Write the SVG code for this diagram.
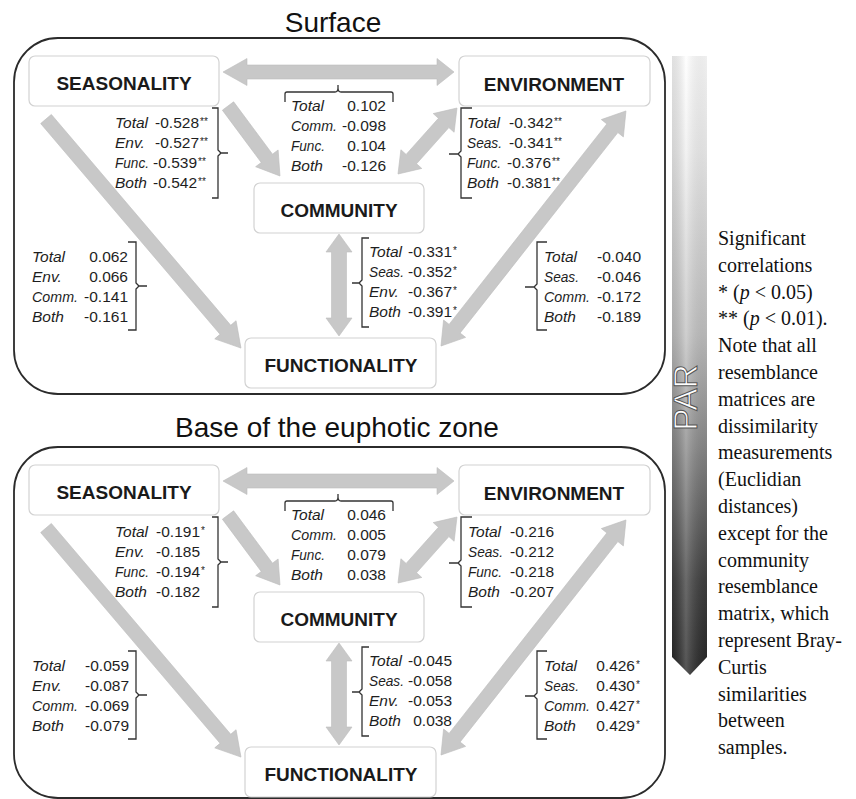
<svg xmlns="http://www.w3.org/2000/svg" width="856" height="799" viewBox="0 0 856 799">
<defs>
<style>
.box{fill:#fff;stroke:#d2d2d2;stroke-width:1.2}
.nt{font-family:"Liberation Sans",Arial,sans-serif;font-weight:bold;font-size:19px;fill:#1a1a1a;text-anchor:middle}
.lab{font-family:"Liberation Sans",Arial,sans-serif;font-size:15.5px;fill:#1e1e1e;font-style:italic}
.val{font-family:"Liberation Sans",Arial,sans-serif;font-size:15.5px;fill:#1e1e1e;text-anchor:end}
.st{font-family:"Liberation Sans",Arial,sans-serif;font-size:10px;fill:#222}
.br{fill:none;stroke:#333;stroke-width:1.3}
.arr{fill:#c8c8c8;stroke:#bdbdbd;stroke-width:0.6}
.panel{fill:none;stroke:#2b2b2b;stroke-width:1.8}
.pt{font-family:"Liberation Sans",Arial,sans-serif;font-size:28px;fill:#111;text-anchor:middle}
.note{font-family:"Liberation Serif","Times New Roman",serif;font-size:20px;fill:#111}
</style>
<linearGradient id="parV" x1="0" y1="0" x2="0" y2="1">
<stop offset="0" stop-color="#ffffff"/>
<stop offset="0.15" stop-color="#f0f0f0"/>
<stop offset="0.45" stop-color="#c2c2c2"/>
<stop offset="0.62" stop-color="#8e8e8e"/>
<stop offset="0.85" stop-color="#404040"/>
<stop offset="1" stop-color="#262626"/>
</linearGradient>
<linearGradient id="parH" x1="0" y1="0" x2="1" y2="0">
<stop offset="0" stop-color="#000" stop-opacity="0.12"/>
<stop offset="0.4" stop-color="#fff" stop-opacity="0.22"/>
<stop offset="1" stop-color="#000" stop-opacity="0.06"/>
</linearGradient>
</defs>
<rect width="856" height="799" fill="#fff"/>

<!-- PAR bar -->
<g id="par">
<path d="M672,56 H707 V657 L690,675 L672,657 Z" fill="url(#parV)"/>
<path d="M672,56 H707 V657 L690,675 L672,657 Z" fill="url(#parH)"/>
<text transform="translate(697,397.5) rotate(-90)" text-anchor="middle" font-family="'Liberation Sans',Arial,sans-serif" font-size="33.5" fill="#fff" stroke="#555" stroke-width="1">PAR</text>
</g>

<!-- Note text -->
<g id="note" class="note">
<text x="718" y="245">Significant</text>
<text x="718" y="271.8">correlations</text>
<text x="718" y="298.6">* (<tspan font-style="italic">p</tspan> &lt; 0.05)</text>
<text x="718" y="325.4">** (<tspan font-style="italic">p</tspan> &lt; 0.01).</text>
<text x="718" y="352.2">Note that all</text>
<text x="718" y="379">resemblance</text>
<text x="718" y="405.8">matrices are</text>
<text x="718" y="432.6">dissimilarity</text>
<text x="718" y="459.4">measurements</text>
<text x="718" y="486.2">(Euclidian</text>
<text x="718" y="513">distances)</text>
<text x="718" y="539.8">except for the</text>
<text x="718" y="566.6">community</text>
<text x="718" y="593.4">resemblance</text>
<text x="718" y="620.2">matrix, which</text>
<text x="718" y="647">represent Bray-</text>
<text x="718" y="673.8">Curtis</text>
<text x="718" y="700.6">similarities</text>
<text x="718" y="727.4">between</text>
<text x="718" y="754.2">samples.</text>
</g>

<!-- ================= TOP PANEL ================= -->
<text class="pt" x="333" y="32">Surface</text>
<rect class="panel" x="14" y="38" width="651" height="356" rx="44"/>

<g id="connectors-top">
<polygon class="arr" transform="translate(223,72)" points="0,0 24,-13.5 24,-7 214,-7 214,-13.5 231,0 214,13.5 214,7 24,7 24,13.5"/>
<polygon class="arr" transform="translate(228,106) rotate(53.4)" points="0,-7 65.2,-7 65.2,-14 87.2,0 65.2,14 65.2,7 0,7"/>
<polygon class="arr" transform="translate(398,174) rotate(-48.2)" points="0,0 20,-14 20,-7 68.5,-7 68.5,-14 88.5,0 68.5,14 68.5,7 20,7 20,14"/>
<polygon class="arr" transform="translate(46,119) rotate(49.6)" points="0,-7 276.8,-7 276.8,-14 300.8,0 276.8,14 276.8,7 0,7"/>
<polygon class="arr" transform="translate(441,346) rotate(-51.8)" points="0,0 22,-14 22,-7 277.1,-7 277.1,-14 299.1,0 277.1,14 277.1,7 22,7 22,14"/>
<polygon class="arr" points="339,234 352,252 346.5,252 346.5,318 352,318 339,336 326,318 331.5,318 331.5,252 326,252"/>
</g>

<g id="seasonality-top"><rect class="box" x="29" y="56" width="190" height="50" rx="6"/><text class="nt" x="124" y="90">SEASONALITY</text></g>
<g id="environment-top"><rect class="box" x="459" y="56" width="191" height="50" rx="6"/><text class="nt" x="554" y="91">ENVIRONMENT</text></g>
<g id="community-top"><rect class="box" x="254" y="183" width="170" height="50" rx="6"/><text class="nt" x="339" y="217">COMMUNITY</text></g>
<g id="functionality-top"><rect class="box" x="245" y="338" width="191" height="50" rx="6"/><text class="nt" x="341" y="372">FUNCTIONALITY</text></g>

<g id="labels-top">
<!-- A -->
<path class="br" d="M212,108 H218 V150 L221,153 H228 M221,153 L218,156 V198 H212"/>
<text class="lab" x="115" y="128">Total</text><text class="val" x="199" y="128">-0.528</text><text class="st" x="200" y="125">**</text>
<text class="lab" x="115" y="148">Env.</text><text class="val" x="199" y="148">-0.527</text><text class="st" x="200" y="145">**</text>
<text class="lab" x="115" y="168" textLength="34" lengthAdjust="spacingAndGlyphs">Func.</text><text class="val" x="197" y="168">-0.539</text><text class="st" x="198" y="165">**</text>
<text class="lab" x="115" y="188">Both</text><text class="val" x="197" y="188">-0.542</text><text class="st" x="198" y="185">**</text>
<!-- B -->
<path class="br" d="M285,102 V94 Q285,92 287,92 H335 Q338,92 338,88 V85 M338,88 Q338,92 341,92 H391 Q393,92 393,94 V102"/>
<text class="lab" x="291" y="111">Total</text><text class="val" x="386" y="111">0.102</text>
<text class="lab" x="291" y="131" textLength="46" lengthAdjust="spacingAndGlyphs">Comm.</text><text class="val" x="386" y="131">-0.098</text>
<text class="lab" x="291" y="151" textLength="34" lengthAdjust="spacingAndGlyphs">Func.</text><text class="val" x="386" y="151">0.104</text>
<text class="lab" x="291" y="171">Both</text><text class="val" x="386" y="171">-0.126</text>
<!-- C -->
<path class="br" d="M472,108 H461 V151 L458,154 H449 M458,154 L461,157 V198 H472"/>
<text class="lab" x="467" y="128">Total</text><text class="val" x="553" y="128">-0.342</text><text class="st" x="554" y="125">**</text>
<text class="lab" x="467" y="148" textLength="35" lengthAdjust="spacingAndGlyphs">Seas.</text><text class="val" x="553" y="148">-0.341</text><text class="st" x="554" y="145">**</text>
<text class="lab" x="467" y="168" textLength="34" lengthAdjust="spacingAndGlyphs">Func.</text><text class="val" x="551" y="168">-0.376</text><text class="st" x="552" y="165">**</text>
<text class="lab" x="467" y="188">Both</text><text class="val" x="551" y="188">-0.381</text><text class="st" x="552" y="185">**</text>
<!-- D -->
<path class="br" d="M128,242 H136 V283 L139,286 H147 M139,286 L136,289 V330 H128"/>
<text class="lab" x="32" y="262">Total</text><text class="val" x="128" y="262">0.062</text>
<text class="lab" x="32" y="282">Env.</text><text class="val" x="128" y="282">0.066</text>
<text class="lab" x="32" y="302" textLength="46" lengthAdjust="spacingAndGlyphs">Comm.</text><text class="val" x="128" y="302">-0.141</text>
<text class="lab" x="32" y="322">Both</text><text class="val" x="128" y="322">-0.161</text>
<!-- E -->
<path class="br" d="M369,238 H362 V280 L359,283 H352 M359,283 L362,286 V327 H369"/>
<text class="lab" x="369" y="257">Total</text><text class="val" x="452" y="257">-0.331</text><text class="st" x="453" y="254">*</text>
<text class="lab" x="369" y="277" textLength="35" lengthAdjust="spacingAndGlyphs">Seas.</text><text class="val" x="452" y="277">-0.352</text><text class="st" x="453" y="274">*</text>
<text class="lab" x="369" y="297">Env.</text><text class="val" x="452" y="297">-0.367</text><text class="st" x="453" y="294">*</text>
<text class="lab" x="369" y="317">Both</text><text class="val" x="452" y="317">-0.391</text><text class="st" x="453" y="314">*</text>
<!-- F -->
<path class="br" d="M547,242 H537 V284 L534,287 H525 M534,287 L537,290 V330 H547"/>
<text class="lab" x="544" y="262">Total</text><text class="val" x="641" y="262">-0.040</text>
<text class="lab" x="544" y="282" textLength="35" lengthAdjust="spacingAndGlyphs">Seas.</text><text class="val" x="641" y="282">-0.046</text>
<text class="lab" x="544" y="302" textLength="46" lengthAdjust="spacingAndGlyphs">Comm.</text><text class="val" x="641" y="302">-0.172</text>
<text class="lab" x="544" y="322">Both</text><text class="val" x="641" y="322">-0.189</text>
</g>

<!-- ================= BOTTOM PANEL ================= -->
<text class="pt" x="337" y="437">Base of the euphotic zone</text>
<rect class="panel" x="14" y="447" width="651" height="351" rx="44"/>

<g transform="translate(0,409)">
<g id="connectors-bottom">
<polygon class="arr" transform="translate(223,72)" points="0,0 24,-13.5 24,-7 214,-7 214,-13.5 231,0 214,13.5 214,7 24,7 24,13.5"/>
<polygon class="arr" transform="translate(228,106) rotate(53.4)" points="0,-7 65.2,-7 65.2,-14 87.2,0 65.2,14 65.2,7 0,7"/>
<polygon class="arr" transform="translate(398,174) rotate(-48.2)" points="0,0 20,-14 20,-7 68.5,-7 68.5,-14 88.5,0 68.5,14 68.5,7 20,7 20,14"/>
<polygon class="arr" transform="translate(46,119) rotate(49.6)" points="0,-7 276.8,-7 276.8,-14 300.8,0 276.8,14 276.8,7 0,7"/>
<polygon class="arr" transform="translate(441,346) rotate(-51.8)" points="0,0 22,-14 22,-7 277.1,-7 277.1,-14 299.1,0 277.1,14 277.1,7 22,7 22,14"/>
<polygon class="arr" points="339,234 352,252 346.5,252 346.5,318 352,318 339,336 326,318 331.5,318 331.5,252 326,252"/>
</g>

<g id="seasonality-bottom"><rect class="box" x="29" y="56" width="190" height="50" rx="6"/><text class="nt" x="124" y="90">SEASONALITY</text></g>
<g id="environment-bottom"><rect class="box" x="459" y="56" width="191" height="50" rx="6"/><text class="nt" x="554" y="91">ENVIRONMENT</text></g>
<g id="community-bottom"><rect class="box" x="254" y="183" width="170" height="50" rx="6"/><text class="nt" x="339" y="217">COMMUNITY</text></g>
<g id="functionality-bottom"><rect class="box" x="245" y="338" width="191" height="50" rx="6"/><text class="nt" x="341" y="372">FUNCTIONALITY</text></g>

<g id="labels-bottom">
<!-- A -->
<path class="br" d="M212,108 H218 V150 L221,153 H228 M221,153 L218,156 V198 H212"/>
<text class="lab" x="115" y="128">Total</text><text class="val" x="200" y="128">-0.191</text><text class="st" x="201" y="125">*</text>
<text class="lab" x="115" y="148">Env.</text><text class="val" x="200" y="148">-0.185</text>
<text class="lab" x="115" y="168" textLength="34" lengthAdjust="spacingAndGlyphs">Func.</text><text class="val" x="200" y="168">-0.194</text><text class="st" x="201" y="165">*</text>
<text class="lab" x="115" y="188">Both</text><text class="val" x="200" y="188">-0.182</text>
<!-- B -->
<path class="br" d="M285,102 V94 Q285,92 287,92 H335 Q338,92 338,88 V85 M338,88 Q338,92 341,92 H391 Q393,92 393,94 V102"/>
<text class="lab" x="291" y="111">Total</text><text class="val" x="386" y="111">0.046</text>
<text class="lab" x="291" y="131" textLength="46" lengthAdjust="spacingAndGlyphs">Comm.</text><text class="val" x="386" y="131">0.005</text>
<text class="lab" x="291" y="151" textLength="34" lengthAdjust="spacingAndGlyphs">Func.</text><text class="val" x="386" y="151">0.079</text>
<text class="lab" x="291" y="171">Both</text><text class="val" x="386" y="171">0.038</text>
<!-- C -->
<path class="br" d="M472,108 H461 V151 L458,154 H449 M458,154 L461,157 V198 H472"/>
<text class="lab" x="468" y="128">Total</text><text class="val" x="554" y="128">-0.216</text>
<text class="lab" x="468" y="148" textLength="35" lengthAdjust="spacingAndGlyphs">Seas.</text><text class="val" x="554" y="148">-0.212</text>
<text class="lab" x="468" y="168" textLength="34" lengthAdjust="spacingAndGlyphs">Func.</text><text class="val" x="554" y="168">-0.218</text>
<text class="lab" x="468" y="188">Both</text><text class="val" x="554" y="188">-0.207</text>
<!-- D -->
<path class="br" d="M128,242 H136 V283 L139,286 H147 M139,286 L136,289 V330 H128"/>
<text class="lab" x="32" y="262">Total</text><text class="val" x="129" y="262">-0.059</text>
<text class="lab" x="32" y="282">Env.</text><text class="val" x="129" y="282">-0.087</text>
<text class="lab" x="32" y="302" textLength="46" lengthAdjust="spacingAndGlyphs">Comm.</text><text class="val" x="129" y="302">-0.069</text>
<text class="lab" x="32" y="322">Both</text><text class="val" x="129" y="322">-0.079</text>
<!-- E -->
<path class="br" d="M369,238 H362 V280 L359,283 H352 M359,283 L362,286 V327 H369"/>
<text class="lab" x="369" y="257">Total</text><text class="val" x="452" y="257">-0.045</text>
<text class="lab" x="369" y="277" textLength="35" lengthAdjust="spacingAndGlyphs">Seas.</text><text class="val" x="452" y="277">-0.058</text>
<text class="lab" x="369" y="297">Env.</text><text class="val" x="452" y="297">-0.053</text>
<text class="lab" x="369" y="317">Both</text><text class="val" x="452" y="317">0.038</text>
<!-- F -->
<path class="br" d="M547,242 H537 V284 L534,287 H525 M534,287 L537,290 V330 H547"/>
<text class="lab" x="544" y="262">Total</text><text class="val" x="635" y="262">0.426</text><text class="st" x="636" y="259">*</text>
<text class="lab" x="544" y="282" textLength="35" lengthAdjust="spacingAndGlyphs">Seas.</text><text class="val" x="635" y="282">0.430</text><text class="st" x="636" y="279">*</text>
<text class="lab" x="544" y="302" textLength="46" lengthAdjust="spacingAndGlyphs">Comm.</text><text class="val" x="635" y="302">0.427</text><text class="st" x="636" y="299">*</text>
<text class="lab" x="544" y="322">Both</text><text class="val" x="635" y="322">0.429</text><text class="st" x="636" y="319">*</text>
</g>
</g>
</svg>
